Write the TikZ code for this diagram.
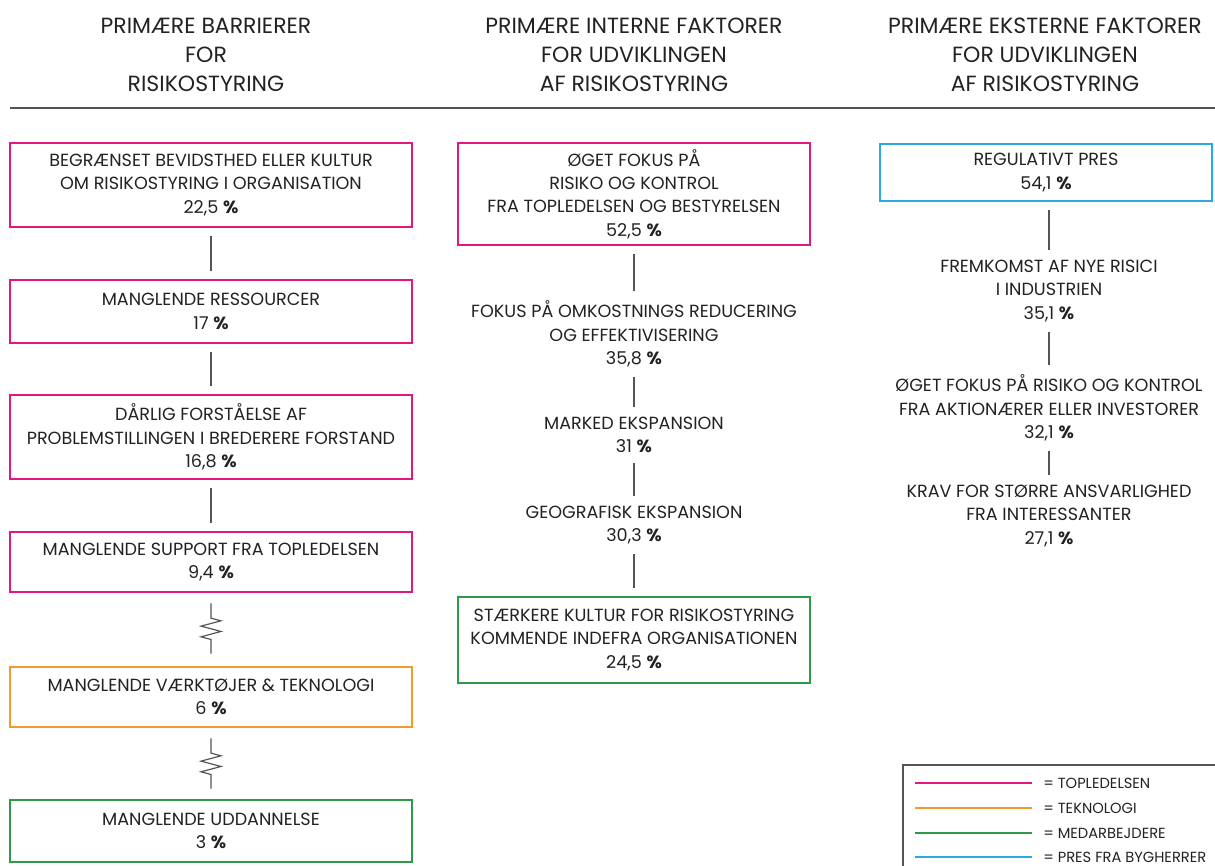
\documentclass[tikz,border=0pt]{standalone}
\usepackage{fontspec}
\setmainfont{Poppins}
\usetikzlibrary{calc,decorations.pathmorphing}

\definecolor{topled}{HTML}{E4177F}
\definecolor{teknol}{HTML}{F39A2E}
\definecolor{medarb}{HTML}{2E9A4A}
\definecolor{bygher}{HTML}{2AA8DF}
\definecolor{linegray}{HTML}{555555}
\definecolor{txt}{HTML}{222222}

\newcommand\bxfont{\fontsize{13.2}{17.6}\selectfont}
\newcommand\hdfont{\fontsize{16.5}{21.8}\selectfont}
\newcommand\lgfont{\fontsize{11}{13}\selectfont}
\newcommand\pc{\textbf{\%}}

\tikzset{
  box/.style={draw=#1, line width=2.2pt, align=center, font=\bxfont,
    text=txt, inner sep=0pt},
  plain/.style={align=center, font=\bxfont, text=txt, inner sep=1pt},
  head/.style={align=center, font=\hdfont, text=txt},
  conn/.style={draw=linegray, line width=1.1pt, shorten >=6pt, shorten <=6pt},
  wavy/.style={draw=linegray, line width=0.9pt, decorate,
    decoration={zigzag, amplitude=7.5pt, segment length=8pt,
      pre length=11pt, post length=9pt}},
  legline/.style={line width=2.2pt},
  legtext/.style={anchor=west, font=\lgfont, text=txt, inner sep=0pt}
}

\begin{document}
\begin{tikzpicture}[x=0.75pt, y=-0.75pt]
\useasboundingbox (0,0) rectangle (1215,865);

% column headings
\node[head] (h1) at (206,55) {PRIMÆRE BARRIERER\\FOR\\RISIKOSTYRING};
\node[head] (h2) at (634,55) {PRIMÆRE INTERNE FAKTORER\\FOR UDVIKLINGEN\\AF RISIKOSTYRING};
\node[head] (h3) at (1045,55) {PRIMÆRE EKSTERNE FAKTORER\\FOR UDVIKLINGEN\\AF RISIKOSTYRING};
\draw[linegray, line width=1.5pt] (10,108) -- (1215,108);

% barriers
\node[box=topled, minimum width=301.5pt, minimum height=63pt] (b1) at (211,185)
  {BEGRÆNSET BEVIDSTHED ELLER KULTUR\\OM RISIKOSTYRING I ORGANISATION\\22,5 \pc};
\node[box=topled, minimum width=301.5pt, minimum height=47.25pt] (b2) at (211,311.5)
  {MANGLENDE RESSOURCER\\17 \pc};
\node[box=topled, minimum width=301.5pt, minimum height=63pt] (b3) at (211,437)
  {DÅRLIG FORSTÅELSE AF\\PROBLEMSTILLINGEN I BREDERERE FORSTAND\\16,8 \pc};
\node[box=topled, minimum width=301.5pt, minimum height=45pt] (b4) at (211,562)
  {MANGLENDE SUPPORT FRA TOPLEDELSEN\\9,4 \pc};
\node[box=teknol, minimum width=301.5pt, minimum height=45pt] (b5) at (211,697)
  {MANGLENDE VÆRKTØJER \& TEKNOLOGI\\6 \pc};
\node[box=medarb, minimum width=301.5pt, minimum height=46.5pt] (b6) at (211,831)
  {MANGLENDE UDDANNELSE\\3 \pc};

\draw[conn] (b1) -- (b2);
\draw[conn] (b2) -- (b3);
\draw[conn] (b3) -- (b4);
\draw[wavy] ($(b4.south)+(0,10)$) -- ($(b5.north)+(0,-12)$);
\draw[wavy] ($(b5.south)+(0,10)$) -- ($(b6.north)+(0,-10)$);

% internal factors
\node[box=topled, minimum width=264pt, minimum height=76.5pt] (c1) at (634,194)
  {ØGET FOKUS PÅ\\RISIKO OG KONTROL\\FRA TOPLEDELSEN OG BESTYRELSEN\\52,5 \pc};
\node[plain] (c2) at (634,334)
  {FOKUS PÅ OMKOSTNINGS REDUCERING\\OG EFFEKTIVISERING\\35,8 \pc};
\node[plain] (c3) at (634,435) {MARKED EKSPANSION\\31 \pc};
\node[plain] (c4) at (634,525) {GEOGRAFISK EKSPANSION\\30,3 \pc};
\node[box=medarb, minimum width=264pt, minimum height=64.5pt] (c5) at (634,640)
  {STÆRKERE KULTUR FOR RISIKOSTYRING\\KOMMENDE INDEFRA ORGANISATIONEN\\24,5 \pc};

\draw[conn] (c1) -- (c2);
\draw[conn] (c2) -- (c3);
\draw[conn] (c3) -- (c4);
\draw[conn] (c4) -- (c5);

% external factors
\node[box=bygher, minimum width=249pt, minimum height=42.75pt] (d1) at (1046,172.5)
  {REGULATIVT PRES\\54,1 \pc};
\node[plain] (d2) at (1049,291)
  {FREMKOMST AF NYE RISICI\\I INDUSTRIEN\\35,1 \pc};
\node[plain] (d3) at (1049,408)
  {ØGET FOKUS PÅ RISIKO OG KONTROL\\FRA AKTIONÆRER ELLER INVESTORER\\32,1 \pc};
\node[plain] (d4) at (1049,516)
  {KRAV FOR STØRRE ANSVARLIGHED\\FRA INTERESSANTER\\27,1 \pc};

\draw[conn] (d2.north |- d1.south) -- (d2.north);
\draw[conn] (d2) -- (d3);
\draw[conn] (d3) -- (d4);

% legend
\draw[linegray, line width=0.8pt] (903,765) rectangle (1222,872);
\draw[legline, topled] (915,783) -- (1032,783);
\node[legtext] (l1) at (1043,783) {= TOPLEDELSEN};
\draw[legline, teknol] (915,808) -- (1032,808);
\node[legtext] (l2) at (1043,808) {= TEKNOLOGI};
\draw[legline, medarb] (915,833) -- (1032,833);
\node[legtext] (l3) at (1043,833) {= MEDARBEJDERE};
\draw[legline, bygher] (915,857) -- (1032,857);
\node[legtext] (l4) at (1043,857) {= PRES FRA BYGHERRER};
\end{tikzpicture}
\end{document}
